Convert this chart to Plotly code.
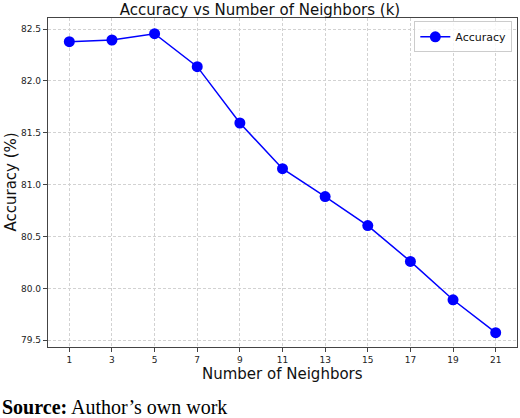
import plotly.graph_objects as go

# k values and accuracy (%)
neighbors = [1, 3, 5, 7, 9, 11, 13, 15, 17, 19, 21]
accuracy = [82.378, 82.394, 82.455, 82.137, 81.594, 81.154, 80.885, 80.605, 80.26, 79.89, 79.573]
y_ticks = [79.5, 80.0, 80.5, 81.0, 81.5, 82.0, 82.5]

fig = go.Figure()
fig.add_trace(go.Scatter(
    x=neighbors, y=accuracy,
    mode="lines+markers",
    name="Accuracy",
    line=dict(color="#0000ff", width=1.5),
    marker=dict(color="#0000ff", size=11),
))

axis_common = dict(
    showline=True, linecolor="#444", linewidth=1.2, mirror=True,
    showgrid=True, gridcolor="#d2d2d2", griddash="3px,2px", gridwidth=1,
    ticks="outside", ticklen=4, tickcolor="#444",
    tickfont=dict(family="DejaVu Sans", size=9, color="#222"),
    zeroline=False, automargin=False,
)

fig.update_layout(
    width=520, height=418,
    margin=dict(l=48, r=3, t=18, b=71),
    paper_bgcolor="white", plot_bgcolor="white",
    title=dict(text="Accuracy vs Number of Neighbors (k)", x=0.5, xanchor="center",
               y=1 - 10 / 418, yanchor="middle", yref="container",
               font=dict(family="DejaVu Sans", size=15, color="#111")),
    xaxis=dict(axis_common, range=[0, 22], tickvals=neighbors),
    yaxis=dict(axis_common, range=[79.435, 82.606], tickvals=y_ticks, tickformat=".1f"),
    legend=dict(x=0.99, y=0.99, xanchor="right", yanchor="top",
                bgcolor="rgba(255,255,255,0.8)", bordercolor="#ccc", borderwidth=1,
                font=dict(family="DejaVu Sans", size=11, color="#111")),
    showlegend=True,
)

# Axis titles placed by hand
fig.add_annotation(
    text="Number of Neighbors", xref="paper", yref="paper", x=0.5, y=0,
    xanchor="center", yanchor="middle", yshift=-27, showarrow=False,
    font=dict(family="DejaVu Sans", size=15, color="#111"),
)
fig.add_annotation(
    text="Accuracy (%)", xref="paper", yref="paper", x=0, y=0.5, textangle=-90,
    xanchor="center", yanchor="middle", xshift=-38, showarrow=False,
    font=dict(family="DejaVu Sans", size=15, color="#111"),
)

# Caption under the chart
fig.add_annotation(
    text="<b>Source:</b> Author\u2019s own work",
    xref="paper", yref="paper", x=0, y=0, xanchor="left", yanchor="middle",
    xshift=-48, yshift=-60, showarrow=False,
    font=dict(family="Liberation Serif", size=20, color="#000"),
)

fig.write_html("out.html", config={"displayModeBar": False},
               post_script="document.body.style.margin='0';")
